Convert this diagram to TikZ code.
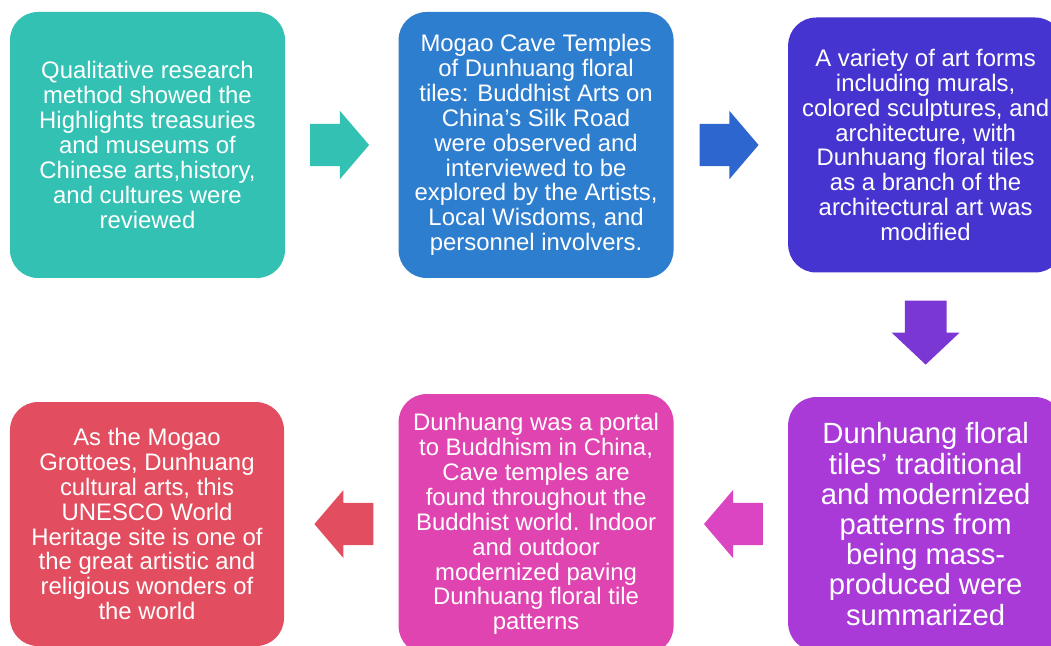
\documentclass[tikz,border=0pt]{standalone}
\usepackage{fontspec}
\setmainfont{Liberation Sans}
\usepackage{tikz}
\usetikzlibrary{shapes.arrows, positioning, calc}
\definecolor{tealbox}{RGB}{51,193,179}
\definecolor{bluebox}{RGB}{46,126,208}
\definecolor{bluearrow}{RGB}{45,102,207}
\definecolor{indigobox}{RGB}{70,52,208}
\definecolor{violetarrow}{RGB}{122,55,211}
\definecolor{purplebox}{RGB}{169,58,215}
\definecolor{pinkarrow}{RGB}{220,69,194}
\definecolor{magentabox}{RGB}{223,68,176}
\definecolor{redbox}{RGB}{226,77,95}

\begin{document}
\begin{tikzpicture}[
    stage/.style={rectangle, rounded corners=0.7cm, minimum width=6.875cm, minimum height=6.65cm, align=center, text=white, inner sep=0pt, font=\fontsize{17}{17.7}\selectfont},
    bigstage/.style={stage, font=\fontsize{20.8}{21.5}\selectfont},
    flow/.style={single arrow, minimum height=1.475cm, minimum width=1.7cm, single arrow head extend=0.325cm, single arrow tip angle=99, inner xsep=0pt, inner ysep=0.52cm}
]

\clip (0,0) rectangle (26.275,-16.15);

% Top row
\node[stage, fill=tealbox] (review) at (3.6875,-3.625) {Qualitative research\\method showed the\\Highlights treasuries\\and museums of\\Chinese arts,history,\\and cultures were\\reviewed};
\node[stage, fill=bluebox, right=2.825cm of review] (observe) {Mogao Cave Temples\\of Dunhuang floral\\tiles: Buddhist Arts on\\China’s Silk Road\\were observed and\\interviewed to be\\explored by the Artists,\\Local Wisdoms, and\\personnel involvers.};
\node[stage, fill=indigobox, minimum height=6.375cm, right=2.85cm of observe] (artforms) {A variety of art forms\\including murals,\\colored sculptures, and\\architecture, with\\Dunhuang floral tiles\\as a branch of the\\architectural art was\\modified};

% Bottom row
\node[bigstage, fill=purplebox, minimum height=6.35cm, below=3.1cm of artforms] (summary) {Dunhuang floral\\tiles’ traditional\\and modernized\\patterns from\\being mass-\\produced were\\summarized};
\node[stage, fill=magentabox, minimum height=6.5cm, left=2.85cm of summary] (portal) {Dunhuang was a portal\\to Buddhism in China,\\Cave temples are\\found throughout the\\Buddhist world. Indoor\\and outdoor\\modernized paving\\Dunhuang floral tile\\patterns};
\node[stage, fill=redbox, minimum width=6.85cm, minimum height=6.1cm, left=2.85cm of portal] (heritage) {As the Mogao\\Grottoes, Dunhuang\\cultural arts, this\\UNESCO World\\Heritage site is one of\\the great artistic and\\religious wonders of\\the world};

% Block arrows between stages
\node[flow, fill=tealbox, xshift=-0.28cm] (a1) at ($(review.east)!0.5!(observe.west)$) {};
\node[flow, fill=bluearrow, xshift=-0.27cm] (a2) at ($(observe.east)!0.5!(artforms.west)$) {};
\node[flow, fill=violetarrow, minimum height=1.6cm, single arrow tip angle=93.5, inner xsep=0.51cm, inner ysep=0pt, shape border rotate=270, yshift=0.3cm] (a3) at ($(artforms.south)!0.5!(summary.north)$) {};
\node[flow, fill=pinkarrow, shape border rotate=180, xshift=0.29cm] (a4) at ($(summary.west)!0.5!(portal.east)$) {};
\node[flow, fill=redbox, shape border rotate=180, xshift=0.29cm] (a5) at ($(portal.west)!0.5!(heritage.east)$) {};

\end{tikzpicture}
\end{document}
